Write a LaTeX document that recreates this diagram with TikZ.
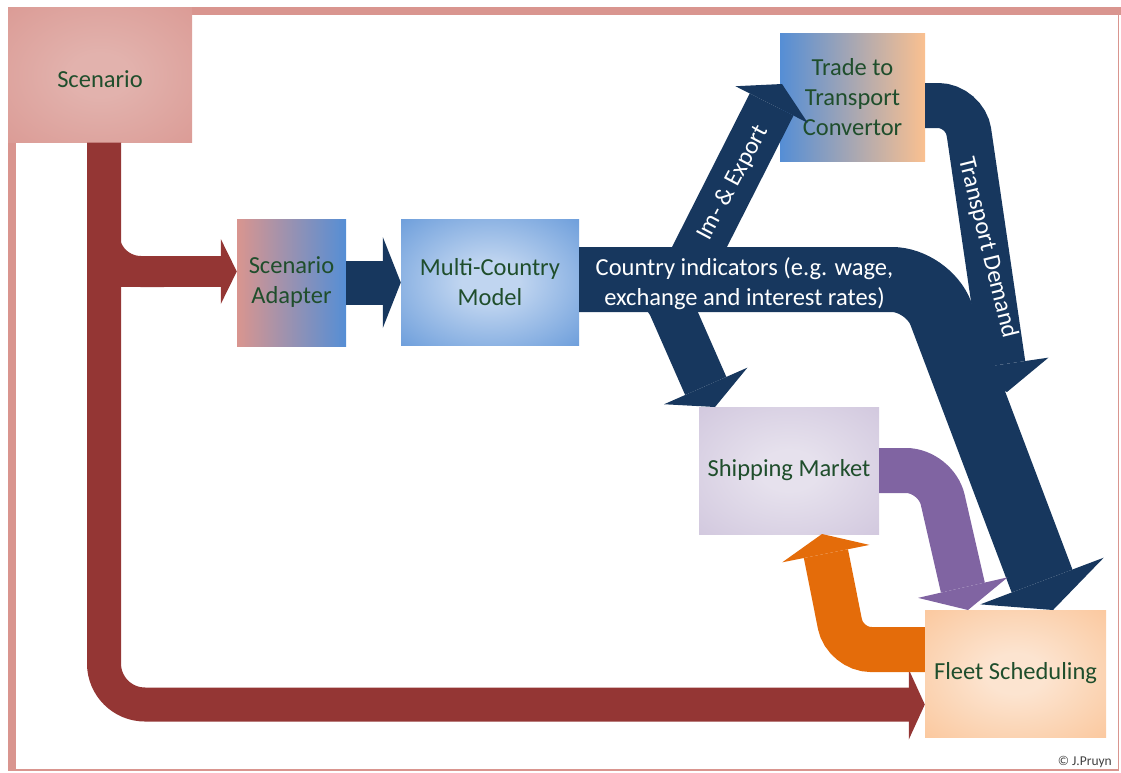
\documentclass[tikz,border=0pt]{standalone}
\usepackage{fontspec}
\setmainfont{Carlito}
\usetikzlibrary{arrows.meta,positioning}

\definecolor{framepink}{RGB}{217,149,143}
\definecolor{scenlight}{RGB}{226,178,173}
\definecolor{arrowred}{RGB}{148,54,52}
\definecolor{navy}{RGB}{23,55,94}
\definecolor{mcblue}{RGB}{85,142,213}
\definecolor{mclight}{RGB}{192,213,240}
\definecolor{peach}{RGB}{250,192,144}
\definecolor{peachlight}{RGB}{252,228,208}
\definecolor{lilac}{RGB}{204,193,218}
\definecolor{lilaclight}{RGB}{230,225,237}
\definecolor{purplearr}{RGB}{128,100,162}
\definecolor{orangearr}{RGB}{228,108,10}
\definecolor{labelgreen}{RGB}{31,78,44}
\definecolor{copygray}{RGB}{64,64,64}

% soft centre glow for the boxes
\colorlet{shadein}{white}
\colorlet{shadeout}{white}
\pgfdeclareradialshading[shadein,shadeout]{softradial}{\pgfpoint{0bp}{0bp}}{%
  color(0bp)=(shadein); color(8bp)=(shadein); color(44bp)=(shadeout); color(50bp)=(shadeout)}

\newcommand{\boxfont}{\fontsize{24.5}{30}\selectfont}

\tikzset{
  box/.style={rectangle, inner sep=0pt, align=center, text=labelgreen, font=\boxfont},
  glow/.style 2 args={/utils/exec={\colorlet{shadein}{#1}\colorlet{shadeout}{#2}}, shading=softradial},
  flowtext/.style={inner sep=0pt, align=center, text=white, font=\boxfont},
  blockhead/.style 2 args={-{Triangle[length=#1,width=#2,line width=0pt]}}
}

\begin{document}
\begin{tikzpicture}[x=1pt,y=-1pt]
  \useasboundingbox (0,0) rectangle (1121,772);
  % frame
  \fill[framepink] (8,7) rectangle (1121,15);
  \fill[framepink] (8,7) rectangle (16,770);
  \draw[framepink, line width=1.5pt] (8,770) -- (1118.5,770) -- (1118.5,15);

  % boxes
  \node[box, minimum width=184pt, minimum height=135pt, text height=24pt, text depth=0pt, glow={scenlight}{framepink}] (scen) at (100,75) {Scenario};
  \node[box, minimum width=109pt, minimum height=127pt, left color=framepink, right color=mcblue] (adapter) at (291.5,282.5) {Scenario\\Adapter};
  \node[box, minimum width=178pt, minimum height=126pt, glow={mclight}{mcblue}] (mcm) at (490,282) {Multi-Country\\Model};
  \node[box, minimum width=145pt, minimum height=128pt, left color=mcblue, right color=peach] (trade) at (852.5,97) {Trade to\\Transport\\Convertor};
  \node[box, minimum width=180pt, minimum height=127pt, glow={lilaclight}{lilac}] (ship) at (789,470.5) {Shipping Market};
  \node[box, minimum width=181pt, minimum height=127pt, glow={peachlight}{peach}] (fleet) at (1015.5,673.5) {Fleet Scheduling};

  \coordinate (redcorner) at (104,704.5);
  \coordinate (redbranch) at (104,271.5);
  \coordinate (filletstart) at (104,228);
  \coordinate (cicorner) at (928,279.5);
  \coordinate (citip) at (1053,610);
  \coordinate (imexstart) at (683,279.5);
  \coordinate (imextip) at (782,84);
  \coordinate (shipcorner) at (659,279.5);
  \coordinate (shiptip) at (715,407);
  \coordinate (tdcorner) at (965,105.5);
  \coordinate (tdtip) at (1007,392);
  \coordinate (smcorner) at (936,470.5);
  \coordinate (smtip) at (968,610);
  \coordinate (fscorner) at (845,649.5);
  \coordinate (fstip) at (822,534);

  % scenario arrows
  \draw[arrowred, line width=34pt, rounded corners=41pt, blockhead={16pt}{70pt}] (scen.south -| redcorner) -- (redcorner) -- (fleet.west |- redcorner);
  \draw[arrowred, line width=31pt, rounded corners=37pt] (filletstart) -- (redbranch) -- ++(60,0);
  \draw[arrowred, line width=31pt, blockhead={16pt}{65pt}] (redbranch) -- (adapter.west |- redbranch);

  % model flows
  \draw[navy, line width=44pt, blockhead={18pt}{91pt}] (adapter.east) -- (mcm.west |- adapter.east);
  \draw[navy, line width=45pt, rounded corners=27pt, blockhead={28pt}{92pt}] (trade.east |- tdcorner) -- (tdcorner) -- (tdtip);
  \draw[navy, line width=65pt, rounded corners=36pt, blockhead={31pt}{132pt}] (mcm.east |- cicorner) -- (cicorner) -- (citip);
  \draw[navy, line width=45pt, rounded corners=30pt, blockhead={23pt}{91pt}] (mcm.east |- shipcorner) -- (shipcorner) -- (shiptip);
  \draw[navy, line width=49pt, blockhead={23pt}{81pt}] (imexstart) -- (imextip);

  % market loop
  \draw[purplearr, line width=45pt, rounded corners=30pt, blockhead={23pt}{92pt}] (ship.east) -- (smcorner) -- (smtip);
  \draw[orangearr, line width=45pt, rounded corners=26pt, blockhead={20pt}{89pt}] (fleet.west |- fscorner) -- (fscorner) -- (fstip);

  % labels on the flows
  \node[flowtext] (cilabel) at (744.5,284) {Country indicators (e.g. wage,\\exchange and interest rates)};
  \node[flowtext, rotate=62] (imexlabel) at (733,183) {Im- \& Export};
  \node[flowtext, rotate=-76] (tdlabel) at (987.5,248) {Transport Demand};
  \node[inner sep=0pt, anchor=east, text=copygray, font=\fontsize{13.5}{16}\selectfont] (credit) at (1112,762) {© J.Pruyn};
\end{tikzpicture}
\end{document}
